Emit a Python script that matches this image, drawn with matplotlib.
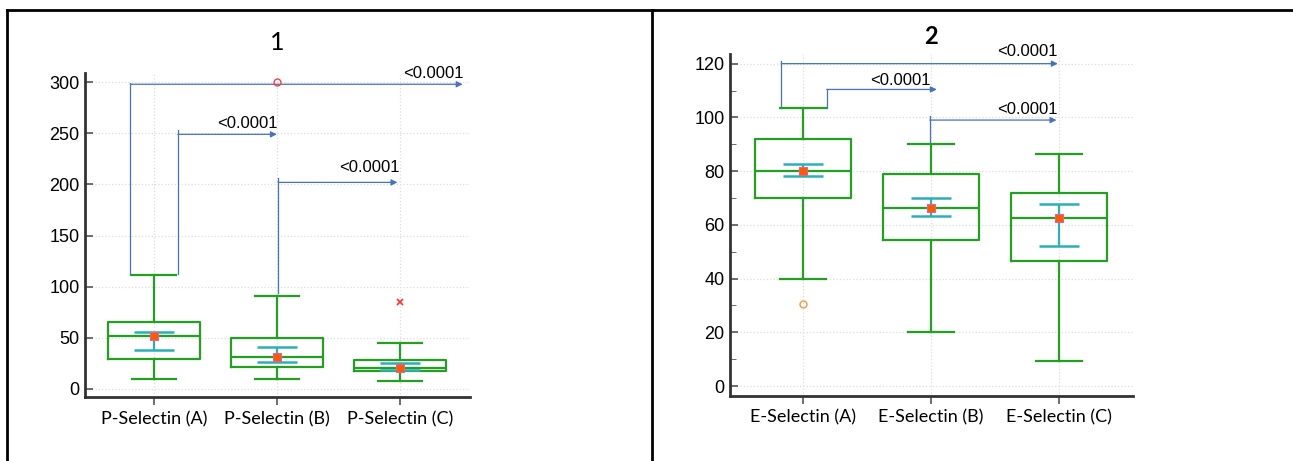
import matplotlib.pyplot as plt
from matplotlib.lines import Line2D
from matplotlib.ticker import MultipleLocator

# panel 1: P-Selectin
p_labels = ["P-Selectin (A)", "P-Selectin (B)", "P-Selectin (C)"]
p_whislo = [10, 10, 7.5]
p_q1 = [29, 21.5, 17]
p_med = [52, 31.5, 20]
p_q3 = [65, 50, 28]
p_whishi = [111, 91, 44.5]
p_mean = [52, 31, 20]
p_ci_lo = [38, 26, 18.5]
p_ci_hi = [56, 41, 25.5]
p_out_circle = [(1, 300)]
p_out_star = [(2, 85)]

# panel 2: E-Selectin
e_labels = ["E-Selectin (A)", "E-Selectin (B)", "E-Selectin (C)"]
e_whislo = [40, 20, 9.2]
e_q1 = [70, 54.3, 46.5]
e_med = [80, 66.2, 62.7]
e_q3 = [92, 79.1, 72]
e_whishi = [103.5, 90, 86.3]
e_mean = [80, 66.2, 62.7]
e_ci_lo = [78, 63.2, 52]
e_ci_hi = [82.6, 70, 67.6]
e_out_circle = [(0, 30.6)]
e_out_star = []

# brackets: (x of vertical, y bottom, y top, y of arrow, x arrow end)
p_brackets = [(-0.19, 111, 299, 298, 2.51), (0.195, 112, 253, 249, 1.0), (1.01, 94, 206, 202, 1.98)]
p_ptext = [(2.27, 309), (0.76, 260), (1.75, 217)]
e_brackets = [(-0.17, 103.5, 121, 120, 1.99), (0.185, 103.5, 110.4, 110.4, 1.045), (0.99, 90, 100.5, 99, 1.98)]
e_ptext = [(1.75, 124.7), (0.76, 113.8), (1.75, 103)]

GREEN = "#22A022"
TEAL = "#2BB0B8"
BLUE = "#4472C4"

fig = plt.figure(figsize=(12.93, 4.61), dpi=100)


def panel(ax, labels, whislo, q1, med, q3, whishi, mean, ci_lo, ci_hi,
          out_circle, out_star, brackets, ptext, circ_color):
    stats = []
    for i in range(len(labels)):
        stats.append(dict(med=med[i], q1=q1[i], q3=q3[i], whislo=whislo[i],
                          whishi=whishi[i], fliers=[], label=labels[i]))
    pos = list(range(len(labels)))
    ax.bxp(stats, positions=pos, widths=0.75, capwidths=0.36, showfliers=False,
           boxprops=dict(color=GREEN, lw=1.6), medianprops=dict(color=GREEN, lw=1.6),
           whiskerprops=dict(color=GREEN, lw=1.6), capprops=dict(color=GREEN, lw=1.6),
           zorder=3)
    yerr = [[m - lo for m, lo in zip(mean, ci_lo)], [hi - m for m, hi in zip(mean, ci_hi)]]
    ax.errorbar(pos, mean, yerr=yerr, fmt="none", ecolor=TEAL, elinewidth=1.6,
                capsize=14.5, capthick=1.8, zorder=4)
    ax.plot(pos, mean, "s", ms=6, mfc="#FF5A00", mec="#E060A0", mew=0.8, zorder=5, ls="none")
    for x, y in out_circle:
        ax.plot(x, y, "o", ms=5, mfc="none", mec=circ_color, mew=1, zorder=5)
    for x, y in out_star:
        ax.plot(x, y, "x", ms=4, color="#FF3030", mew=1.2, zorder=5)
    for xv, yb, yt, ya, xe in brackets:
        ax.plot([xv, xv], [yb, yt], color=BLUE, lw=0.9, zorder=2, clip_on=False)
        ax.annotate("", xy=(xe, ya), xytext=(xv, ya),
                    arrowprops=dict(arrowstyle="-|>", color=BLUE, lw=0.9,
                                    mutation_scale=9, shrinkA=0, shrinkB=0),
                    annotation_clip=False)
    for xt, yt in ptext:
        ax.text(xt, yt, "<0.0001", ha="center", va="center", fontsize=12,
                family="Liberation Sans")
    for s in ["top", "right"]:
        ax.spines[s].set_visible(False)
    for s in ["left", "bottom"]:
        ax.spines[s].set_color("#333333")
        ax.spines[s].set_linewidth(2)
    ax.grid(True, color="#DDDDDD", ls=":", lw=0.9)
    ax.set_axisbelow(True)
    ax.tick_params(axis="y", direction="in", length=6, width=1.2, color="#555555",
                   labelsize=13, pad=4)
    ax.tick_params(axis="x", direction="out", length=6, width=1.2, color="#555555", pad=4)
    for t in ax.get_yticklabels():
        t.set_family("Liberation Sans")
    ax.set_xticks(pos)
    ax.set_xticklabels(labels, fontsize=13, family=["Lato", "DejaVu Sans"])


ax1 = fig.add_axes([0.0657, 0.1388, 0.2978, 0.7028])
ax1.set_xlim(-0.56, 2.57)
ax1.set_ylim(-8, 309)
ax1.set_yticks(range(0, 301, 50))
panel(ax1, p_labels, p_whislo, p_q1, p_med, p_q3, p_whishi, p_mean, p_ci_lo, p_ci_hi,
      p_out_circle, p_out_star, p_brackets, p_ptext, "#FF4040")
ax1.set_title("1", fontsize=18, family="Lato", pad=0, y=1.07)

ax2 = fig.add_axes([0.5646, 0.1417, 0.3115, 0.7412])
ax2.set_xlim(-0.57, 2.576)
ax2.set_ylim(-3.6, 123.6)
ax2.set_yticks(range(0, 121, 20))
ax2.yaxis.set_minor_locator(MultipleLocator(10))
ax2.tick_params(axis="y", which="minor", direction="in", length=4, color="#555555")
panel(ax2, e_labels, e_whislo, e_q1, e_med, e_q3, e_whishi, e_mean, e_ci_lo, e_ci_hi,
      e_out_circle, e_out_star, e_brackets, e_ptext, "#F79646")
ax2.set_title("2", fontsize=17, fontweight="bold", family="Lato", pad=0, y=1.03)

# panel frames
fig.add_artist(Line2D([7 / 1293, 1.0], [1 - 10 / 461] * 2, color="black", lw=2))
fig.add_artist(Line2D([7 / 1293] * 2, [0, 1 - 10 / 461], color="black", lw=2))
fig.add_artist(Line2D([652 / 1293] * 2, [0, 1 - 10 / 461], color="black", lw=2))

fig.savefig("out.png", dpi=100)
